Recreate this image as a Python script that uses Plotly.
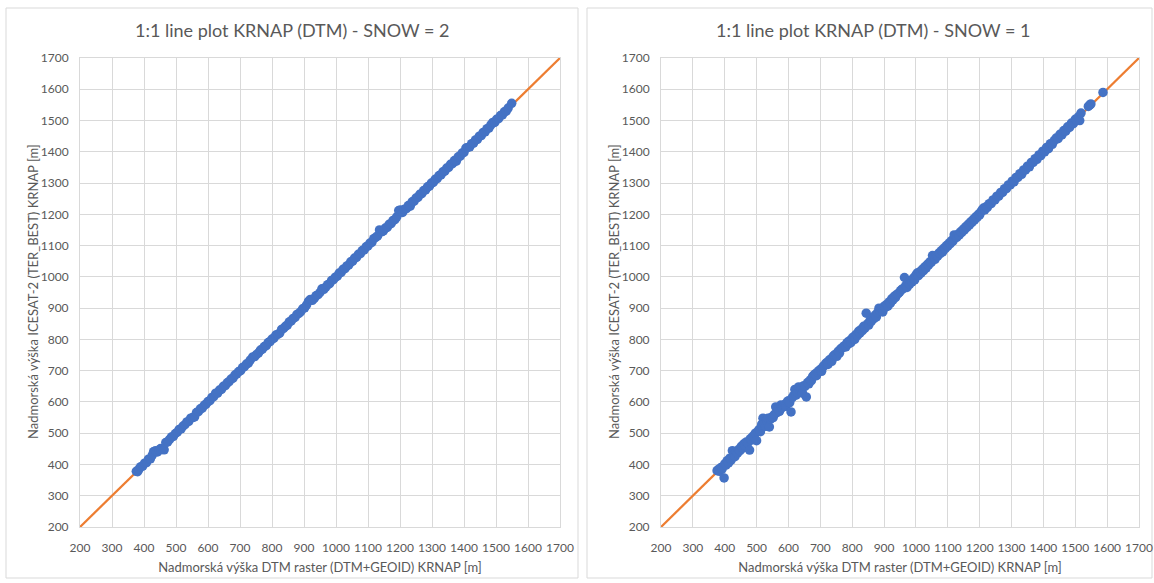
import plotly.graph_objects as go

# ---------------- data ----------------
line_x = [200, 1700]
line_y = [200, 1700]

snow2_x = [376, 380, 385, 390, 396, 402, 408, 414, 420, 426, 430, 436, 442, 448, 452, 458, 463, 468, 474, 480,
           486, 492, 498, 504, 510, 516, 522, 528, 534, 540, 546, 552, 558, 564, 570, 576, 582, 588, 594, 600,
           606, 612, 618, 624, 630, 636, 642, 648, 654, 660, 666, 672, 678, 684, 690, 696, 702, 708, 714, 720,
           726, 732, 740, 746, 752, 758, 764, 770, 776, 782, 788, 794, 800, 806, 812, 818, 824, 830, 836, 842,
           848, 854, 860, 866, 872, 878, 884, 890, 896, 902, 908, 914, 920, 926, 932, 938, 944, 950, 956, 962,
           968, 974, 980, 986, 992, 998, 1004, 1010, 1016, 1022, 1028, 1034, 1040, 1046, 1052, 1058, 1064, 1070,
           1076, 1082, 1088, 1094, 1100, 1106, 1112, 1118, 1124, 1130, 1136, 1142, 1148, 1154, 1160, 1166, 1172,
           1178, 1184, 1190, 1196, 1202, 1208, 1214, 1220, 1226, 1232, 1238, 1244, 1250, 1256, 1262, 1268, 1274,
           1280, 1286, 1292, 1298, 1304, 1310, 1316, 1322, 1328, 1334, 1340, 1346, 1352, 1358, 1364, 1370, 1376,
           1382, 1388, 1394, 1400, 1406, 1412, 1418, 1424, 1430, 1436, 1442, 1448, 1454, 1460, 1466, 1472, 1478,
           1484, 1490, 1496, 1502, 1508, 1514, 1520, 1526, 1532, 1538, 1549]
snow2_y = [378, 377, 386, 393, 395, 404, 406, 417, 418, 430, 441, 444, 440, 446, 451, 448, 447, 470, 472, 480,
           488, 490, 499, 503, 512, 514, 523, 527, 536, 538, 548, 550, 552, 566, 569, 578, 580, 589, 593, 601,
           604, 614, 617, 628, 628, 638, 640, 650, 652, 661, 665, 673, 676, 686, 690, 697, 700, 710, 713, 721,
           724, 734, 744, 745, 752, 757, 766, 769, 777, 780, 790, 793, 801, 804, 814, 816, 820, 832, 835, 842,
           846, 856, 859, 867, 870, 880, 883, 889, 898, 901, 910, 922, 928, 925, 931, 940, 943, 950, 962, 960,
           967, 975, 978, 988, 991, 999, 1002, 1012, 1014, 1024, 1026, 1035, 1038, 1048, 1050, 1060, 1062, 1072,
           1074, 1084, 1086, 1096, 1099, 1108, 1110, 1122, 1126, 1131, 1150, 1144, 1147, 1156, 1158, 1168, 1170,
           1180, 1183, 1192, 1212, 1214, 1206, 1216, 1218, 1228, 1226, 1240, 1242, 1252, 1254, 1264, 1266, 1276,
           1278, 1288, 1290, 1300, 1302, 1312, 1314, 1324, 1326, 1336, 1338, 1348, 1350, 1360, 1362, 1372, 1370,
           1384, 1386, 1396, 1398, 1412, 1414, 1416, 1426, 1428, 1438, 1440, 1450, 1452, 1462, 1464, 1474, 1476,
           1486, 1494, 1494, 1504, 1506, 1516, 1518, 1528, 1530, 1540, 1555]

snow1_x = [376, 380, 384, 388, 392, 398, 400, 404, 408, 412, 416, 420, 424, 428, 432, 436, 440, 444, 448, 452,
           456, 460, 464, 468, 472, 478, 480, 484, 488, 492, 496, 500, 504, 508, 512, 516, 520, 524, 528, 532,
           536, 540, 544, 548, 552, 556, 560, 564, 568, 572, 576, 580, 584, 588, 592, 596, 600, 604, 608, 612,
           616, 620, 624, 628, 632, 636, 640, 644, 648, 652, 656, 660, 664, 668, 672, 676, 680, 684, 688, 692,
           696, 700, 704, 708, 712, 716, 720, 724, 728, 732, 736, 740, 744, 748, 752, 756, 760, 764, 768, 772,
           776, 780, 784, 788, 792, 796, 800, 804, 808, 812, 816, 820, 824, 828, 832, 836, 840, 844, 848, 852,
           856, 860, 864, 868, 872, 876, 880, 884, 888, 892, 896, 900, 904, 908, 912, 916, 920, 924, 928, 932,
           936, 940, 944, 948, 952, 956, 960, 964, 968, 972, 976, 980, 984, 988, 992, 996, 1000, 1004, 1008,
           1012, 1016, 1020, 1024, 1028, 1032, 1036, 1040, 1044, 1048, 1052, 1056, 1060, 1064, 1068, 1072, 1076,
           1080, 1084, 1088, 1092, 1096, 1100, 1104, 1108, 1112, 1116, 1120, 1124, 1128, 1132, 1136, 1140, 1144,
           1148, 1152, 1156, 1160, 1164, 1168, 1172, 1176, 1180, 1184, 1188, 1192, 1196, 1200, 1204, 1208, 1212,
           1216, 1220, 1224, 1230, 1236, 1242, 1248, 1254, 1260, 1266, 1272, 1278, 1284, 1290, 1296, 1302, 1308,
           1314, 1320, 1326, 1332, 1338, 1344, 1350, 1356, 1362, 1368, 1374, 1380, 1386, 1392, 1398, 1404, 1410,
           1416, 1422, 1428, 1434, 1440, 1446, 1452, 1458, 1464, 1470, 1476, 1482, 1488, 1494, 1500, 1504, 1510,
           1514, 1518, 1541, 1546, 1549, 1587]
snow1_y = [380, 384, 378, 390, 386, 357, 402, 398, 412, 405, 420, 414, 444, 430, 425, 440, 436, 448, 444, 458,
           452, 466, 460, 472, 468, 446, 482, 478, 490, 488, 500, 476, 506, 512, 505, 528, 548, 530, 522, 540,
           548, 520, 546, 552, 550, 560, 584, 566, 576, 570, 590, 582, 588, 592, 586, 600, 604, 598, 568, 614,
           620, 640, 622, 630, 648, 634, 642, 628, 652, 650, 616, 662, 658, 670, 668, 682, 686, 690, 684, 696,
           700, 704, 698, 712, 716, 722, 726, 720, 734, 736, 730, 746, 750, 752, 746, 762, 756, 770, 772, 776,
           780, 776, 790, 786, 796, 790, 804, 808, 800, 816, 812, 826, 820, 832, 828, 842, 836, 884, 850, 846,
           860, 858, 870, 866, 878, 872, 886, 900, 890, 896, 888, 906, 902, 912, 906, 920, 916, 930, 926, 938,
           934, 944, 946, 950, 956, 960, 962, 998, 972, 966, 980, 976, 988, 984, 996, 990, 1006, 1012, 1004,
           1016, 1012, 1024, 1020, 1032, 1028, 1040, 1038, 1048, 1046, 1068, 1060, 1056, 1068, 1066, 1076, 1074,
           1084, 1080, 1092, 1090, 1100, 1098, 1108, 1106, 1116, 1114, 1134, 1128, 1126, 1136, 1134, 1144, 1142,
           1152, 1150, 1160, 1158, 1168, 1166, 1176, 1174, 1184, 1182, 1192, 1190, 1200, 1198, 1208, 1214, 1220,
           1214, 1224, 1222, 1234, 1234, 1246, 1246, 1258, 1258, 1270, 1270, 1282, 1282, 1294, 1294, 1306, 1304,
           1318, 1318, 1330, 1328, 1342, 1342, 1354, 1352, 1366, 1366, 1378, 1376, 1390, 1388, 1402, 1400, 1414,
           1410, 1426, 1424, 1436, 1444, 1442, 1456, 1454, 1468, 1466, 1480, 1478, 1492, 1490, 1504, 1500, 1512,
           1500, 1524, 1545, 1550, 1553, 1590]

tick_vals = list(range(200, 1701, 100))
titles = ["1:1 line plot KRNAP (DTM) - SNOW = 2", "1:1 line plot KRNAP (DTM) - SNOW = 1"]
x_title = "Nadmorská výška DTM raster (DTM+GEOID) KRNAP [m]"
y_title = "Nadmorská výška ICESAT-2 (TER_BEST) KRNAP [m]"

# ---------------- styling ----------------
W, H = 1154, 583
FONT = "Lato"
GRAY = "#595959"
GRID = "#d9d9d9"
BLUE = "#4472C4"
ORANGE = "#ED7D31"


def px_x(p):
    return p / W


def px_y(p):
    return 1 - p / H


fig = go.Figure()

panels = [
    (snow2_x, snow2_y, "x", "y"),
    (snow1_x, snow1_y, "x2", "y2"),
]
for sx, sy, xa, ya in panels:
    fig.add_trace(go.Scatter(x=line_x, y=line_y, mode="lines", xaxis=xa, yaxis=ya,
                             line=dict(color=ORANGE, width=2.25), showlegend=False, hoverinfo="skip"))
    fig.add_trace(go.Scatter(x=sx, y=sy, mode="markers", xaxis=xa, yaxis=ya,
                             marker=dict(color=BLUE, size=9.5, line=dict(width=0)), showlegend=False))

axis_common = dict(range=[200, 1700], tickvals=tick_vals, showgrid=True, gridcolor=GRID, gridwidth=1,
                   zeroline=False, showline=True, mirror=True, linecolor=GRID, linewidth=1, automargin=False,
                   tickfont=dict(family=FONT, size=12, color=GRAY), ticks="", fixedrange=True)

x_domains = [[px_x(80), px_x(560)], [px_x(661), px_x(1139)]]
y_domain = [px_y(527), px_y(58)]

title_font = dict(family=FONT, size=13, color=GRAY)

fig.update_layout(
    width=W, height=H, margin=dict(l=0, r=0, t=0, b=0),
    paper_bgcolor="white", plot_bgcolor="white",
    xaxis=dict(domain=x_domains[0], anchor="y", ticklabelstandoff=10,
               title=dict(text=x_title, font=title_font, standoff=8), **axis_common),
    yaxis=dict(domain=y_domain, anchor="x", ticklabelstandoff=8, **axis_common),
    xaxis2=dict(domain=x_domains[1], anchor="y2", ticklabelstandoff=10,
                title=dict(text=x_title, font=title_font, standoff=8), **axis_common),
    yaxis2=dict(domain=y_domain, anchor="x2", ticklabelstandoff=8, **axis_common),
    shapes=[
        dict(type="rect", xref="paper", yref="paper", x0=px_x(6), x1=px_x(578), y0=px_y(578), y1=px_y(8),
             line=dict(color=GRID, width=1), layer="below"),
        dict(type="rect", xref="paper", yref="paper", x0=px_x(587), x1=px_x(1152), y0=px_y(578), y1=px_y(8),
             line=dict(color=GRID, width=1), layer="below"),
    ],
    annotations=[
        dict(text=titles[0], xref="paper", yref="paper", x=px_x(292), y=px_y(30), showarrow=False,
             xanchor="center", yanchor="middle", font=dict(family=FONT, size=18, color=GRAY)),
        dict(text=titles[1], xref="paper", yref="paper", x=px_x(873), y=px_y(30), showarrow=False,
             xanchor="center", yanchor="middle", font=dict(family=FONT, size=18, color=GRAY)),
        dict(text=y_title, xref="paper", yref="paper", x=px_x(33), y=px_y(292), showarrow=False,
             textangle=-90, xanchor="center", yanchor="middle", font=title_font),
        dict(text=y_title, xref="paper", yref="paper", x=px_x(614), y=px_y(292), showarrow=False,
             textangle=-90, xanchor="center", yanchor="middle", font=title_font),
    ],
    hovermode="closest",
)

fig.write_html("out.html")
